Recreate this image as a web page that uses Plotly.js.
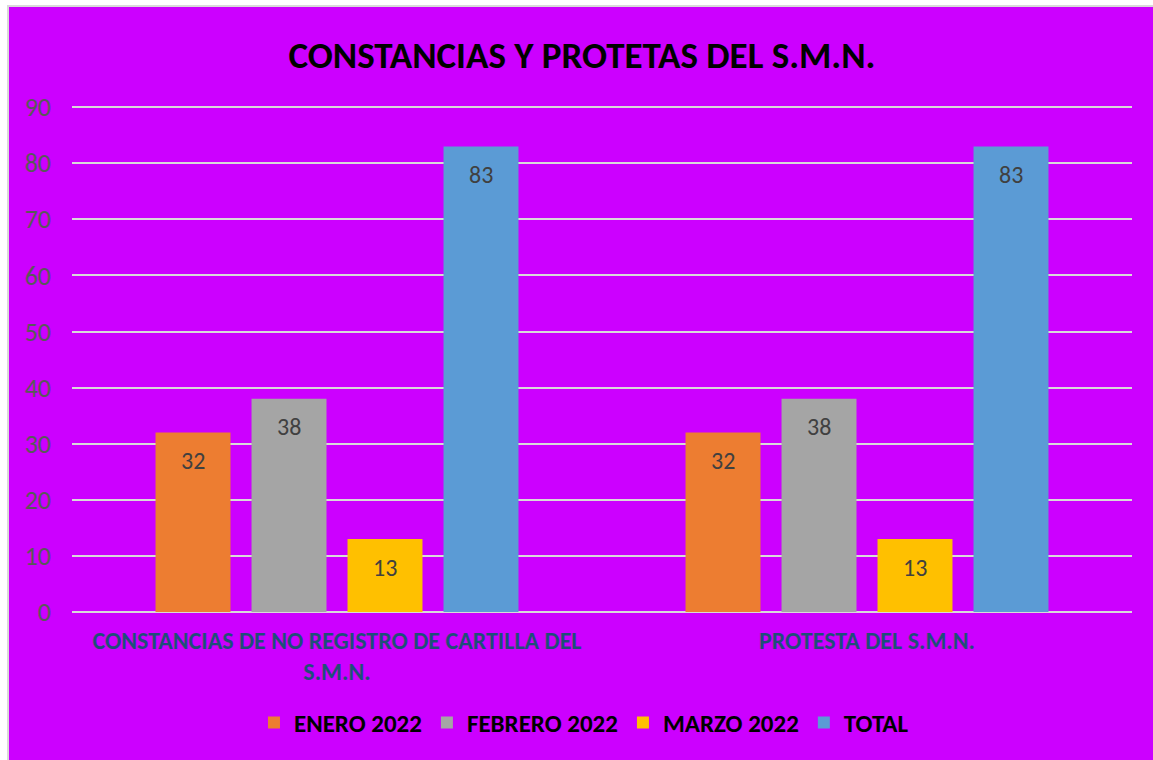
<!DOCTYPE html>
<html>
<head>
<meta charset="utf-8">
<script src="https://cdn.plot.ly/plotly-3.0.1.min.js"></script>
<style>
  html, body { margin: 0; padding: 0; background: #ffffff; }
  #chart { position: absolute; left: 7px; top: 5px; width: 1146px; height: 755px;
           border-left: 2px solid #d9d9d9; border-top: 2px solid #d9d9d9; box-sizing: border-box; }
</style>
</head>
<body>
<div id="chart"></div>
<script>
const categories = ["CONSTANCIAS DE NO REGISTRO DE CARTILLA DEL<br>S.M.N.", "PROTESTA DEL S.M.N."];
const seriesNames = ["ENERO 2022", "FEBRERO 2022", "MARZO 2022", "TOTAL"];
const enero = [32, 32];
const febrero = [38, 38];
const marzo = [13, 13];
const total = [83, 83];
const seriesValues = [enero, febrero, marzo, total];
const colors = ["#ED7D31", "#A5A5A5", "#FFC000", "#5B9BD5"];
const yTicks = [0, 10, 20, 30, 40, 50, 60, 70, 80, 90];

const FONT = "Carlito, Lato, 'Open Sans', sans-serif";

const traces = seriesValues.map((vals, i) => ({
  type: "bar",
  name: "<b>" + seriesNames[i] + "</b>",
  x: categories,
  y: vals,
  marker: { color: colors[i], line: { width: 0 } },
  hoverinfo: "skip"
}));

const slotPx = 96;
const annotations = [];
seriesValues.forEach((vals, i) => {
  vals.forEach((v, j) => {
    annotations.push({
      x: categories[j], y: v, xref: "x", yref: "y",
      text: String(v), showarrow: false,
      xshift: (i - 1.5) * slotPx, yshift: -28,
      font: { family: FONT, size: 24, color: "#404040" }
    });
  });
});

const layout = {
  width: 1146, height: 755,
  paper_bgcolor: "#CC00FF",
  plot_bgcolor: "#CC00FF",
  margin: { l: 63, r: 23, t: 99, b: 150 },
  title: {
    text: "<b>CONSTANCIAS Y PROTETAS DEL S.M.N.</b>",
    font: { family: FONT, size: 37, color: "#000000" },
    x: 0.5, xanchor: "center", y: 0.937, yanchor: "middle"
  },
  barmode: "group",
  bargap: 0.2755,
  bargroupgap: 0.219,
  showlegend: true,
  legend: {
    orientation: "h", x: 0.483, xanchor: "center", y: -0.219, yanchor: "middle",
    font: { family: FONT, size: 25, color: "#000000" },
    itemwidth: 30, tracegroupgap: 0,
    bgcolor: "rgba(0,0,0,0)"
  },
  xaxis: {
    tickfont: { family: FONT, size: 24, color: "#1F4E79", weight: "bold" },
    showgrid: false, showline: false, zeroline: false, ticks: "",
    ticklabelstandoff: 12, fixedrange: true
  },
  yaxis: {
    range: [0, 90.2], tickvals: yTicks, ticktext: yTicks.map(String),
    tickfont: { family: FONT, size: 26, color: "#595959" },
    showgrid: true, gridcolor: "#D9D9D9", gridwidth: 2,
    zeroline: true, zerolinecolor: "#D9D9D9", zerolinewidth: 2,
    showline: false, ticks: "", ticklabelstandoff: 20, fixedrange: true
  },
  annotations: annotations
};

Plotly.newPlot("chart", traces, layout, { displayModeBar: false, staticPlot: true });
</script>
</body>
</html>
